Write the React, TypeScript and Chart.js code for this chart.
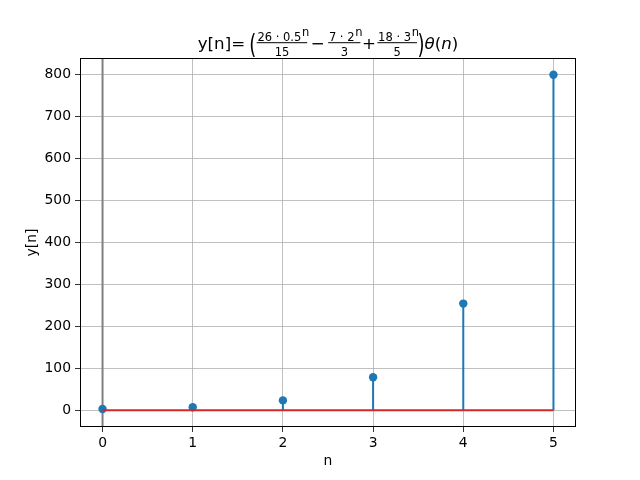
import React, { useEffect, useRef } from "react";
import { Chart, registerables } from "chart.js";

Chart.register(...registerables);

const nValues = [0, 1, 2, 3, 4, 5];
const yValues = [3, 7, 23.5, 78.75, 254.375, 800.1875];
const xTicks = [0, 1, 2, 3, 4, 5];
const yTicks = [0, 100, 200, 300, 400, 500, 600, 700, 800];
const xLimits = [-0.25, 5.25];
const yLimits = [-40.01, 840.2];

const FF = '"DejaVu Sans"';

const mathTitle = {
  id: "mathTitle",
  afterDraw(chart: any) {
    const ctx = chart.ctx as CanvasRenderingContext2D;
    const a = chart.chartArea;
    const cx = (a.left + a.right) / 2;
    const base = 48.5;
    const axisY = 42.7;
    const fMain = `16.7px ${FF}`;
    const fIt = `italic 16.7px ${FF}`;
    const fFrac = `11.5px ${FF}`;
    const fSup = `italic 7px ${FF}`;
    const fParen = `18px ${FF}`;
    const parenScale = 1.5;
    ctx.save();
    ctx.fillStyle = "#000";
    ctx.strokeStyle = "#000";
    ctx.textAlign = "left";
    ctx.textBaseline = "alphabetic";
    const mw = (font: string, s: string) => {
      ctx.font = font;
      return ctx.measureText(s).width;
    };
    const pieces: { width: number; draw: (x: number) => void }[] = [];
    const text = (font: string, s: string, y: number) =>
      pieces.push({
        width: mw(font, s),
        draw: (x) => {
          ctx.font = font;
          ctx.fillText(s, x, y);
        },
      });
    const paren = (s: string) =>
      pieces.push({
        width: mw(fParen, s),
        draw: (x) => {
          ctx.save();
          ctx.font = fParen;
          ctx.translate(x, 52.8);
          ctx.scale(1, parenScale);
          ctx.fillText(s, 0, 0);
          ctx.restore();
        },
      });
    const gap = (px: number) => pieces.push({ width: px, draw: () => {} });
    const frac = (num: string, sup: string, den: string) => {
      const nw = mw(fFrac, num) + mw(fSup, sup) + 0.8;
      const dw = mw(fFrac, den);
      const pad = 1.2;
      const width = Math.max(nw, dw) + 2 * pad;
      pieces.push({
        width,
        draw: (x) => {
          const nx = x + (width - nw) / 2;
          ctx.font = fFrac;
          ctx.fillText(num, nx, 40.5);
          ctx.font = fSup;
          ctx.fillText(sup, nx + mw(fFrac, num) + 0.8, 36);
          ctx.font = fFrac;
          ctx.fillText(den, x + (width - dw) / 2, 55.7);
          ctx.fillRect(x + 0.5, axisY - 0.5, width - 1, 1);
        },
      });
    };
    text(fMain, "y[n]=", base);
    gap(4);
    paren("(");
    frac("26 · 0.5", "n", "15");
    gap(3);
    text(fMain, "−", base);
    gap(3);
    frac("7 · 2", "n", "3");
    gap(1);
    text(fMain, "+", base);
    gap(1);
    frac("18 · 3", "n", "5");
    paren(")");
    text(fIt, "θ", base);
    text(fMain, "(", base);
    text(fIt, "n", base);
    text(fMain, ")", base);
    const total = pieces.reduce((s, p) => s + p.width, 0);
    let x = cx - total / 2;
    for (const p of pieces) {
      p.draw(x);
      x += p.width;
    }
    ctx.restore();
  },
};

const frame = {
  id: "frame",
  afterDraw(chart: any) {
    const ctx = chart.ctx as CanvasRenderingContext2D;
    const a = chart.chartArea;
    ctx.save();
    ctx.strokeStyle = "#000";
    ctx.lineWidth = 1;
    ctx.strokeRect(Math.round(a.left) + 0.5, Math.round(a.top) + 0.5, Math.round(a.right - a.left) - 1, Math.round(a.bottom - a.top) - 1);
    ctx.restore();
  },
};

export default function App() {
  const ref = useRef<HTMLCanvasElement>(null);
  useEffect(() => {
    document.body.style.margin = "0";
    const stems: any[] = [];
    nValues.forEach((n, i) => {
      stems.push({ x: n, y: 0 }, { x: n, y: yValues[i] }, { x: n, y: null });
    });
    const points = nValues.map((n, i) => ({ x: n, y: yValues[i] }));
    const baseline = [
      { x: nValues[0], y: 0 },
      { x: nValues[nValues.length - 1], y: 0 },
    ];
    const vline = [
      { x: 0, y: yLimits[0] },
      { x: 0, y: yLimits[1] },
    ];
    const tickFont = { family: "DejaVu Sans", size: 13.9 };
    const chart = new Chart(ref.current!, {
      type: "scatter",
      data: {
        datasets: [
          {
            data: vline,
            showLine: true,
            borderColor: "#808080",
            borderWidth: 2,
            pointRadius: 0,
            order: 4,
          },
          {
            data: stems,
            showLine: true,
            spanGaps: false,
            borderColor: "#1f77b4",
            borderWidth: 2,
            pointRadius: 0,
            order: 3,
          },
          {
            data: points,
            showLine: false,
            backgroundColor: "#1f77b4",
            borderColor: "#1f77b4",
            borderWidth: 0,
            pointRadius: 4.2,
            order: 2,
          },
          {
            data: baseline,
            showLine: true,
            borderColor: "#d62728",
            borderWidth: 2,
            pointRadius: 0,
            order: 1,
          },
        ] as any,
      },
      options: {
        animation: false,
        responsive: false,
        events: [],
        layout: { padding: { left: 0, right: 64, top: 58, bottom: 0 } },
        plugins: {
          legend: { display: false },
          tooltip: { enabled: false },
          title: { display: false },
        },
        scales: {
          x: {
            type: "linear",
            min: xLimits[0],
            max: xLimits[1],
            afterBuildTicks: (s: any) => {
              s.ticks = xTicks.map((v) => ({ value: v }));
            },
            afterFit: (s: any) => {
              s.height = 53;
            },
            ticks: {
              color: "#000",
              font: tickFont,
              padding: 3,
              maxRotation: 0,
              callback: (v: any) => String(v),
            },
            grid: {
              color: "#b0b0b0",
              lineWidth: 0.8,
              tickColor: "#000",
              tickLength: 5,
              tickWidth: 0.8,
            },
            border: { display: false },
            title: {
              display: true,
              text: "n",
              color: "#000",
              font: tickFont,
              padding: { top: 0, bottom: 10 },
            },
          },
          y: {
            type: "linear",
            min: yLimits[0],
            max: yLimits[1],
            afterBuildTicks: (s: any) => {
              s.ticks = yTicks.map((v) => ({ value: v }));
            },
            afterFit: (s: any) => {
              s.width = 80;
            },
            ticks: {
              color: "#000",
              font: tickFont,
              padding: 4,
              callback: (v: any) => String(v),
            },
            grid: {
              color: "#b0b0b0",
              lineWidth: 0.8,
              tickColor: "#000",
              tickLength: 5,
              tickWidth: 0.8,
            },
            border: { display: false },
            title: {
              display: true,
              text: "y[n]",
              color: "#000",
              font: tickFont,
              padding: 24,
            },
          },
        },
      },
      plugins: [mathTitle, frame],
    });
    return () => chart.destroy();
  }, []);
  return (
    <div style={{ position: "absolute", left: 0, top: 0, width: 640, height: 480, background: "#fff" }}>
      <canvas ref={ref} width={640} height={480} />
    </div>
  );
}
